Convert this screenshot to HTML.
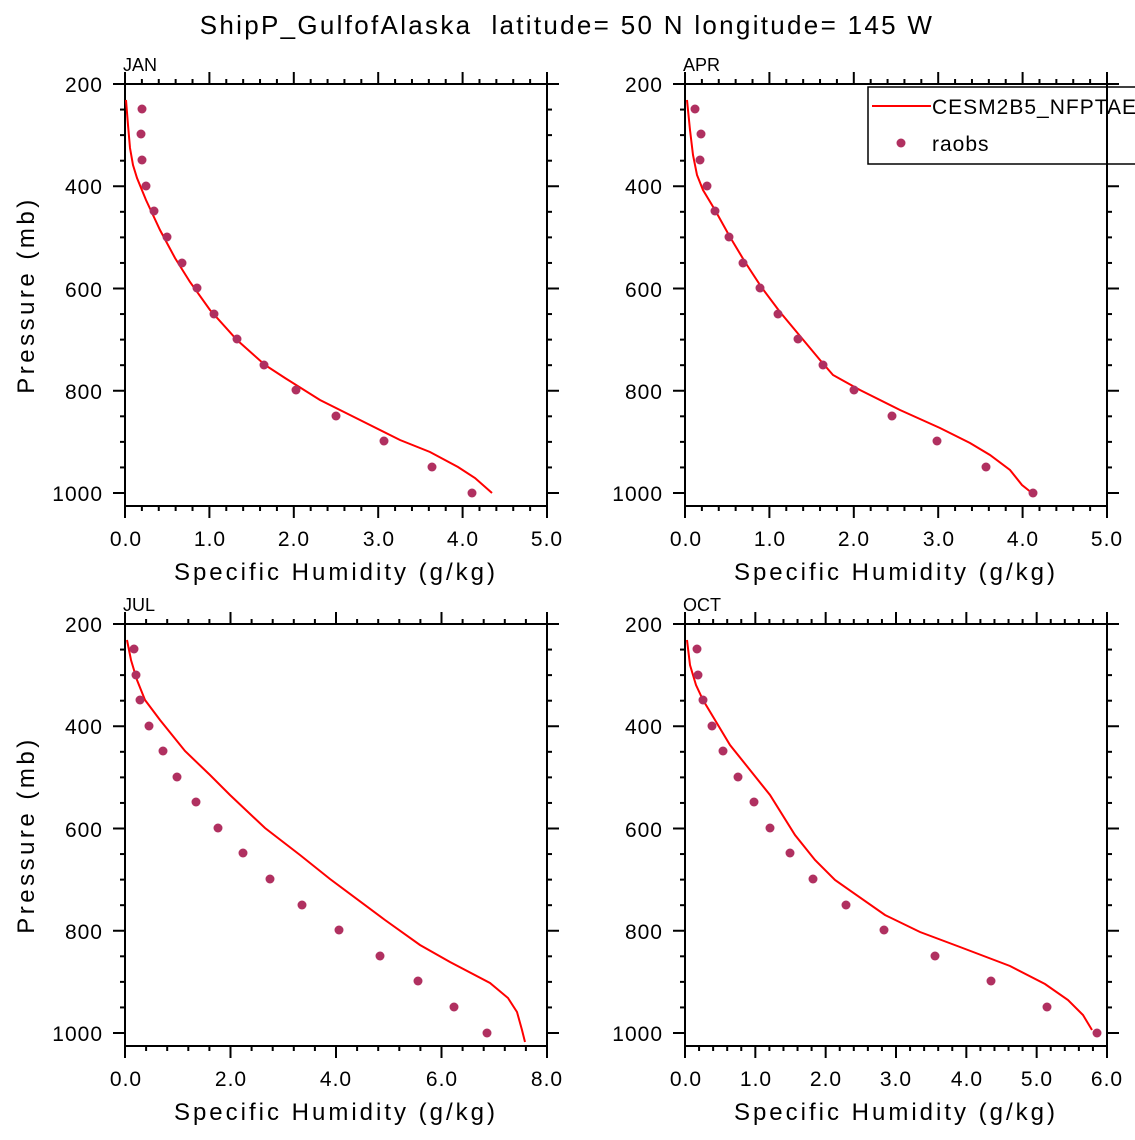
<!DOCTYPE html>
<html><head><meta charset="utf-8"><style>
html,body{margin:0;padding:0;background:#fff;}
svg text{font-family:"Liberation Sans",sans-serif;fill:#000;}
</style></head><body>
<svg id="s" width="1135" height="1135" viewBox="0 0 1135 1135" xmlns="http://www.w3.org/2000/svg">
<rect width="1135" height="1135" fill="#fff"/>
<text x="567" y="34" font-size="26" text-anchor="middle" letter-spacing="2.3">ShipP_GulfofAlaska&#160; latitude= 50 N longitude= 145 W</text>
<g font-size="18"><text x="123" y="71">JAN</text><text x="683" y="71">APR</text><text x="123" y="611">JUL</text><text x="683" y="611">OCT</text></g>
<g font-size="21" text-anchor="end" letter-spacing="1">
<text x="103" y="92">200</text><text x="103" y="194">400</text><text x="103" y="297">600</text><text x="103" y="399">800</text><text x="103" y="501">1000</text>
<text x="663" y="92">200</text><text x="663" y="194">400</text><text x="663" y="297">600</text><text x="663" y="399">800</text><text x="663" y="501">1000</text>
<text x="103" y="632">200</text><text x="103" y="734">400</text><text x="103" y="837">600</text><text x="103" y="939">800</text><text x="103" y="1041">1000</text>
<text x="663" y="632">200</text><text x="663" y="734">400</text><text x="663" y="837">600</text><text x="663" y="939">800</text><text x="663" y="1041">1000</text>
</g>
<g font-size="21" text-anchor="middle" letter-spacing="1">
<text x="126" y="546">0.0</text><text x="210" y="546">1.0</text><text x="294" y="546">2.0</text><text x="379" y="546">3.0</text><text x="463" y="546">4.0</text><text x="547" y="546">5.0</text>
<text x="686" y="546">0.0</text><text x="770" y="546">1.0</text><text x="854" y="546">2.0</text><text x="939" y="546">3.0</text><text x="1023" y="546">4.0</text><text x="1107" y="546">5.0</text>
<text x="126" y="1086">0.0</text><text x="231" y="1086">2.0</text><text x="336" y="1086">4.0</text><text x="442" y="1086">6.0</text><text x="547" y="1086">8.0</text>
<text x="686" y="1086">0.0</text><text x="756" y="1086">1.0</text><text x="826" y="1086">2.0</text><text x="896" y="1086">3.0</text><text x="967" y="1086">4.0</text><text x="1037" y="1086">5.0</text><text x="1107" y="1086">6.0</text>
</g>
<g font-size="24" text-anchor="middle" letter-spacing="3">
<text x="336" y="580">Specific Humidity (g/kg)</text><text x="896" y="580">Specific Humidity (g/kg)</text>
<text x="336" y="1120">Specific Humidity (g/kg)</text><text x="896" y="1120">Specific Humidity (g/kg)</text>
<text transform="translate(34,295) rotate(-90)" letter-spacing="3.5">Pressure (mb)</text>
<text transform="translate(34,835) rotate(-90)" letter-spacing="3.5">Pressure (mb)</text>
</g>
<g id="ax" stroke="#000" stroke-width="2" fill="none"></g>
<g fill="none" stroke="#f00" stroke-width="2">
<polyline points="126,100 128,125 130,148 133,165 137,178 146,200 160,230 175,258 190,282 210,310 237,340 265,365 285,378 320,400 360,420 400,440 430,452 458,467 475,478 492,493"/>
<polyline points="687,100 690,130 693,155 697,175 703,190 715,210 730,237 745,262 762,288 780,312 800,336 820,360 833,375 860,390 900,410 940,428 970,443 990,455 1010,470 1022,485 1032,493"/>
<polyline points="127,640 131,660 137,680 145,700 160,720 185,751 210,775 230,795 265,828 300,855 330,879 385,920 420,945 450,962 490,983 508,998 517,1012 522,1030 525,1042"/>
<polyline points="687,640 690,665 696,685 703,700 715,720 730,745 750,770 770,795 795,835 815,860 835,880 885,915 920,932 960,947 1010,966 1045,984 1068,1000 1083,1015 1092,1030"/>
</g>
<g id="dots" fill="#b03060"></g>
<rect x="868" y="87" width="280" height="77" fill="#fff" stroke="#000" stroke-width="1.5"/>
<line x1="872" y1="106" x2="931" y2="106" stroke="#f00" stroke-width="2"/>
<text x="932" y="114" font-size="21" letter-spacing="1">CESM2B5_NFPTAE</text>
<circle cx="901" cy="143" r="4.5" fill="#b03060"/>
<text x="932" y="151" font-size="21" letter-spacing="1">raobs</text>
<line x1="1107" y1="84" x2="1107" y2="180" stroke="#000" stroke-width="2"/>
</svg>
<script>
var ns="http://www.w3.org/2000/svg";
function el(p,t,a){var e=document.createElementNS(ns,t);for(var k in a)e.setAttribute(k,a[k]);p.appendChild(e);}
var ax=document.getElementById('ax');
var panels=[[125,84,5,1,0.2],[685,84,5,1,0.2],[125,624,8,2,0.4],[685,624,6,1,0.2]];
panels.forEach(function(p){
 var x0=p[0],y0=p[1],W=422,H=422;
 el(ax,'rect',{x:x0,y:y0,width:W,height:H});
 for(var pr=200;pr<=1000;pr+=50){var y=y0+(pr-200)*0.51125;var L=(pr%200==0)?12:5;
  el(ax,'line',{x1:x0,y1:y,x2:x0-L,y2:y});el(ax,'line',{x1:x0+W,y1:y,x2:x0+W+L,y2:y});}
 var n=Math.round(p[2]/p[4]);
 for(var i=0;i<=n;i++){var x=x0+W*i/n;var maj=Math.abs((i*p[4])/p[3]-Math.round(i*p[4]/p[3]))<1e-6;var L=maj?12:5;
  el(ax,'line',{x1:x,y1:y0,x2:x,y2:y0-L});el(ax,'line',{x1:x,y1:y0+H,x2:x,y2:y0+H+L});}
});
var D=document.getElementById('dots');
var pts=[[142,109],[141,134],[142,160],[146,186],[154,211],[167,237],[182,263],[197,288],[214,314],[237,339],[264,365],[296,390],[336,416],[384,441],[432,467],[472,493],
[695,109],[701,134],[700,160],[707,186],[715,211],[729,237],[743,263],[760,288],[778,314],[798,339],[823,365],[854,390],[892,416],[937,441],[986,467],[1033,493],
[134,649],[136,675],[140,700],[149,726],[163,751],[177,777],[196,802],[218,828],[243,853],[270,879],[302,905],[339,930],[380,956],[418,981],[454,1007],[487,1033],
[697,649],[698,675],[703,700],[712,726],[723,751],[738,777],[754,802],[770,828],[790,853],[813,879],[846,905],[884,930],[935,956],[991,981],[1047,1007],[1097,1033]];
pts.forEach(function(q){el(D,'circle',{cx:q[0],cy:q[1],r:4.5});});
</script>
</body></html>
